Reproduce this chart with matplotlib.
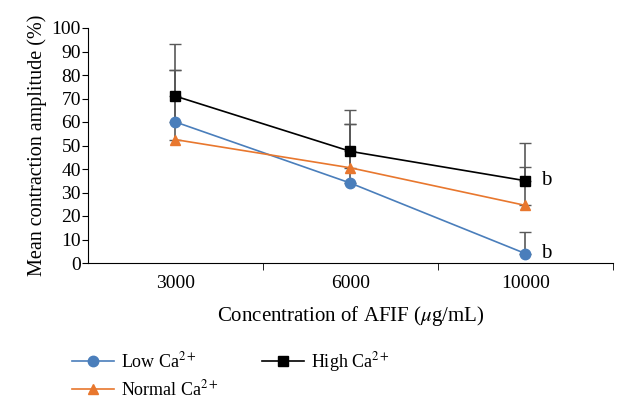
import matplotlib
matplotlib.use('Agg')
import matplotlib.pyplot as plt
import numpy as np

plt.rcParams['font.family'] = ['Liberation Serif', 'DejaVu Serif']
plt.rcParams['mathtext.fontset'] = 'stix'

# 資料
concentrations = ['3000', '6000', '10000']
low_ca = [60, 34, 4]
normal_ca = [52.5, 40.5, 24.5]
high_ca = [71, 47.5, 35]
low_err = [22, 25, 9]
normal_err = [29.5, 18.5, 16.5]
high_err = [22, 17.5, 16]
series_labels = ['Low Ca$^{2+}$', 'Normal Ca$^{2+}$', 'High Ca$^{2+}$']

fig = plt.figure(figsize=(6.17, 4), dpi=100)
ax = fig.add_axes([0.1426, 0.3425, 0.8509, 0.5875])

x = np.arange(len(concentrations))
styles = [
    (low_ca, low_err, '#4A7EBB', 'o', 7.5),
    (normal_ca, normal_err, '#E8772E', '^', 7.5),
    (high_ca, high_err, '#000000', 's', 7.5),
]

handles = []
for (vals, errs, col, mk, ms), lab in zip(styles, series_labels):
    ax.errorbar(x, vals, yerr=[np.zeros(len(errs)), errs], fmt='none',
                ecolor='#595959', elinewidth=1.2, capsize=4, capthick=1.0,
                zorder=2)
    h, = ax.plot(x, vals, color=col, marker=mk, markersize=ms, lw=1.2,
                 label=lab, zorder=3)
    handles.append(h)

# 顯著性標記 "b"
ax.text(x[2] + 0.09, high_ca[2], 'b', fontsize=15, va='center', ha='left')
ax.text(x[2] + 0.09, low_ca[2], 'b', fontsize=15, va='center', ha='left')

ax.set_xlim(-0.5, 2.5)
ax.set_ylim(0, 100)
ax.set_yticks(np.arange(0, 101, 10))
ax.set_xticks(x)
ax.set_xticklabels(concentrations)
ax.set_xticks([0.5, 1.5, 2.5], minor=True)
ax.tick_params(axis='x', which='major', length=0, pad=9, labelsize=14)
ax.tick_params(axis='x', which='minor', length=5, direction='out')
ax.tick_params(axis='y', length=4, direction='out', labelsize=14, pad=1)
for s in ['top', 'right']:
    ax.spines[s].set_visible(False)

ax.set_ylabel('Mean contraction amplitude (%)', fontsize=14.5, labelpad=3)
ax.set_xlabel('Concentration of AFIF ($\\mu$g/mL)', fontsize=15, labelpad=8)

fig.legend(handles, series_labels, ncol=2, loc='upper left',
           bbox_to_anchor=(0.105, 0.143), frameon=False, fontsize=13,
           handlelength=2.3, columnspacing=2.4, labelspacing=0.45,
           handletextpad=0.4, borderaxespad=0)

fig.savefig('out.png', dpi=100)
